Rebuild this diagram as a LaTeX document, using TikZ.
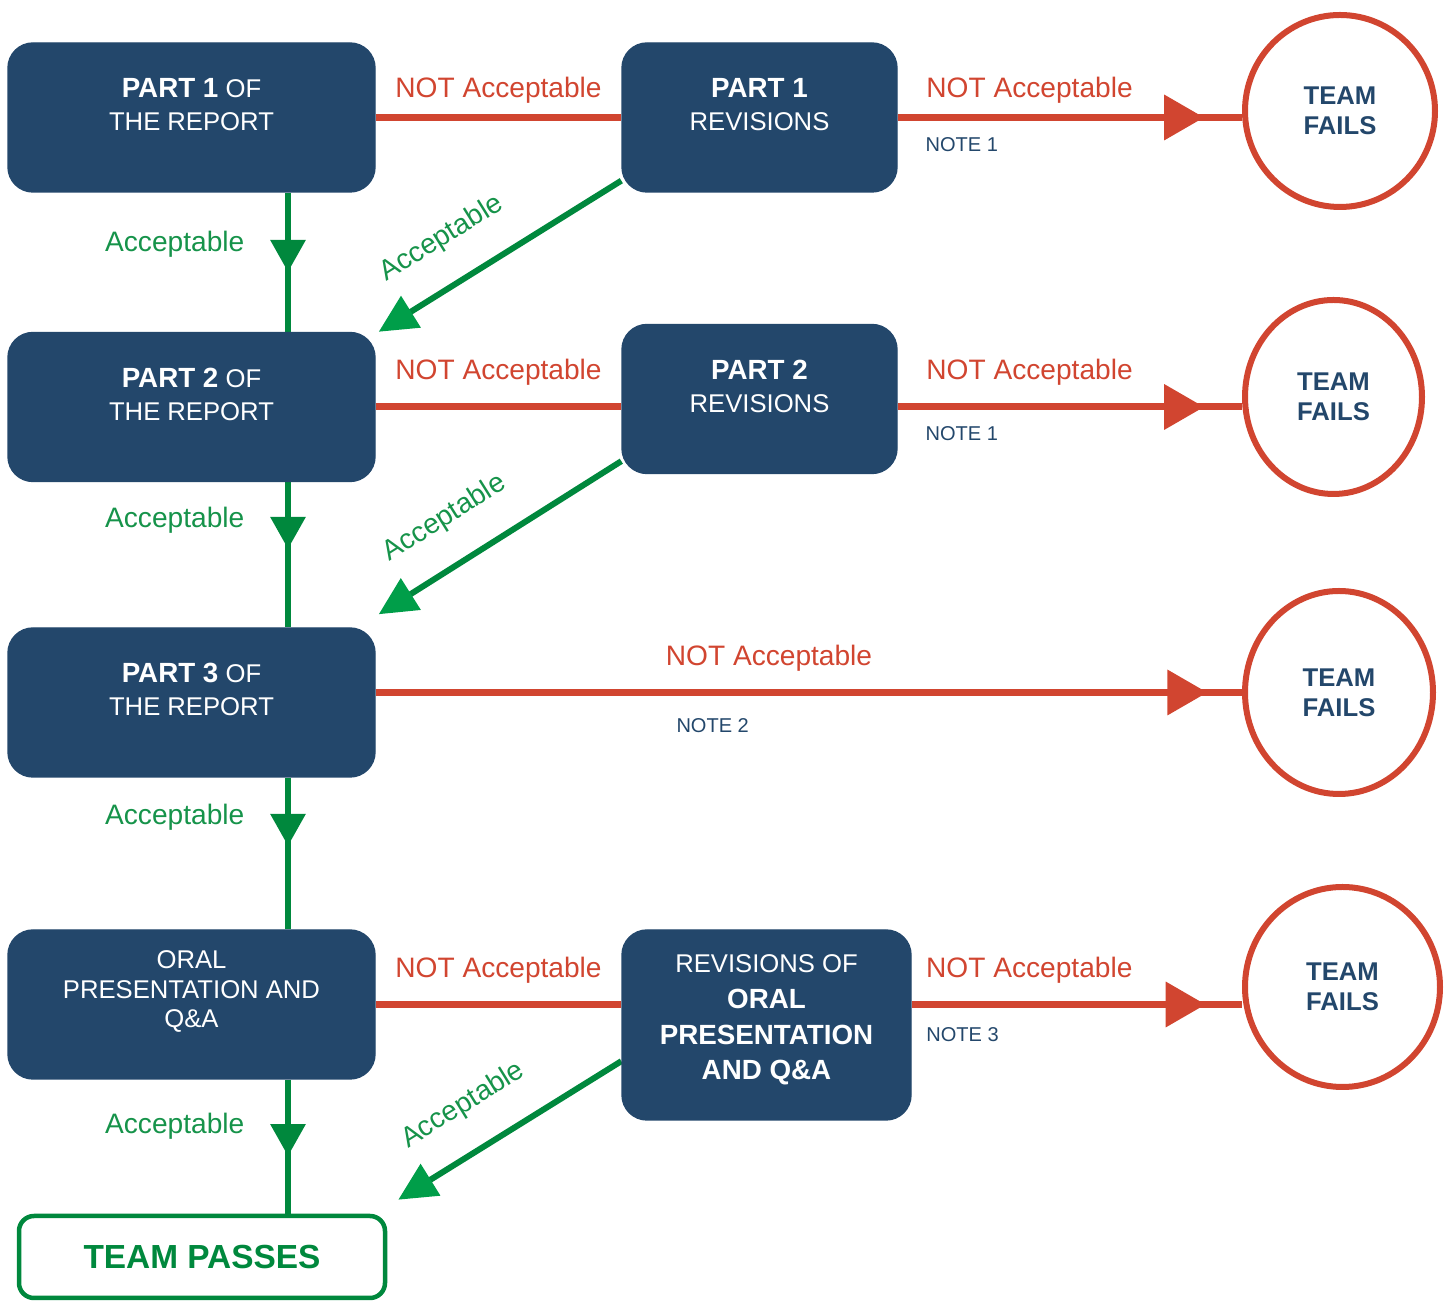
\documentclass[tikz,border=0pt]{standalone}
\usepackage{fontspec}
\setmainfont{Liberation Sans}
\usetikzlibrary{positioning, arrows.meta, shapes.geometric, decorations.markings, backgrounds}
\definecolor{boxblue}{HTML}{23476B}
\definecolor{failred}{HTML}{D14530}
\definecolor{okgreen}{HTML}{00883D}
\definecolor{okgreenlight}{HTML}{009E49}
\definecolor{labelgreen}{HTML}{16934A}
\newcommand{\heavy}[1]{{\fontsize{7.9}{9.4}\selectfont\bfseries #1}}

\begin{document}
\begin{tikzpicture}[
        x=0.1mm, y=-0.1mm,
        stagebox/.style={rectangle, rounded corners=2.5mm, fill=boxblue, draw=boxblue, minimum width=36.7mm, minimum height=14.9mm},
        revbox/.style={stagebox, minimum width=27.5mm},
        boxtext/.style={text=white, align=center, font=\fontsize{7.3}{9.4}\selectfont},
        failcircle/.style={ellipse, draw=failred, line width=0.6mm, fill=white, text=boxblue, align=center, inner sep=0pt, font=\fontsize{7.3}{8.6}\selectfont\bfseries},
        passbox/.style={rectangle, rounded corners=1.5mm, draw=okgreen, line width=0.45mm, fill=white, minimum width=36.6mm, minimum height=8.2mm, text=okgreen, font=\fontsize{9.5}{11}\selectfont\bfseries},
        redline/.style={color=failred, line width=0.7mm},
        greenline/.style={color=okgreen, line width=0.6mm},
        redtip/.style={postaction={decorate}, decoration={markings, mark=at position #1 with {\arrow{Triangle[length=4mm, width=4.4mm]}}}},
        greentip/.style={postaction={decorate}, decoration={markings, mark=at position #1 with {\arrow{Triangle[length=3.2mm, width=3.4mm]}}}},
        backtip/.style={-{Triangle[length=3.8mm, width=3.6mm, color=okgreenlight]}},
        redlabel/.style={text=failred, font=\fontsize{8}{9.6}\selectfont},
        greenlabel/.style={text=labelgreen, font=\fontsize{8}{9.6}\selectfont},
        notelabel/.style={text=boxblue, font=\fontsize{5.7}{7}\selectfont}
    ]
    \useasboundingbox (0,0) rectangle (1450,1302);
    \coordinate (trunk) at (288,0);

    % Report parts, left column
    \node[stagebox] (p1) at (191.5,117.5) {};
    \node[boxtext] (p1txt) at ([yshift=1.3mm]p1.center) {\heavy{PART 1} OF\\THE REPORT};
    \node[stagebox] (p2) at (191.5,407) {};
    \node[boxtext] (p2txt) at ([yshift=1.3mm]p2.center) {\heavy{PART 2} OF\\THE REPORT};
    \node[stagebox] (p3) at (191.5,702.5) {};
    \node[boxtext] (p3txt) at ([yshift=1.3mm]p3.center) {\heavy{PART 3} OF\\THE REPORT};
    \node[stagebox] (p4) at (191.5,1004.5) {};
    \node[boxtext, font=\fontsize{7.3}{8.5}\selectfont] (p4txt) at ([yshift=1.3mm]p4.center) {ORAL\\PRESENTATION AND\\Q\&A};
    \node[passbox] (pass) at (202,1257) {TEAM PASSES};

    % Revisions, middle column
    \node[revbox] (r1) at (759.5,117.5) {};
    \node[boxtext] (r1txt) at ([yshift=1.3mm]r1.center) {\heavy{PART 1}\\REVISIONS};
    \node[revbox] (r2) at (759.5,399) {};
    \node[boxtext] (r2txt) at ([yshift=1.3mm]r2.center) {\heavy{PART 2}\\REVISIONS};
    \node[revbox, minimum width=28.9mm, minimum height=19mm] (r4) at (766.5,1025) {};
    \node[boxtext, font=\fontsize{7.3}{10.2}\selectfont] (r4txt) at ([yshift=0.5mm]r4.center) {REVISIONS OF\\\heavy{ORAL}\\\heavy{PRESENTATION}\\\heavy{AND Q\&A}};

    % Failures, right column
    \node[failcircle, minimum width=19mm, minimum height=19.2mm] (f1) at (1340,111) {TEAM\\FAILS};
    \node[failcircle, minimum width=17.7mm, minimum height=19.4mm] (f2) at (1333.5,397) {TEAM\\FAILS};
    \node[failcircle, minimum width=18.8mm, minimum height=20.3mm] (f3) at (1339,692.5) {TEAM\\FAILS};
    \node[failcircle, minimum width=19.5mm, minimum height=20mm] (f4) at (1342.5,987) {TEAM\\FAILS};

    \begin{scope}[on background layer]
    % NOT Acceptable paths
    \draw[redline] (p1.east) -- node[redlabel, above=-0.1mm] {NOT Acceptable} (r1.west);
    \draw[redline, redtip=0.89] (r1.east) -- node[redlabel, pos=0.383, above=-0.1mm] {NOT Acceptable} node[notelabel, pos=0.186, below=0.5mm] {NOTE 1} (r1.east -| f1.west);
    \draw[redline] (p2.east) -- node[redlabel, above=0.6mm] {NOT Acceptable} (p2.east -| r2.west);
    \draw[redline, redtip=0.89] (p2.east -| r2.east) -- node[redlabel, pos=0.383, above=0.6mm] {NOT Acceptable} node[notelabel, pos=0.186, below=0.4mm] {NOTE 1} (p2.east -| f2.west);
    \draw[redline, redtip=0.96] (p3.east |- f3.west) -- node[redlabel, pos=0.454, above=0.6mm] {NOT Acceptable} node[notelabel, pos=0.389, below=1.1mm] {NOTE 2} (f3.west);
    \draw[redline] (p4.east) -- node[redlabel, above=0.6mm] {NOT Acceptable} (p4.east -| r4.west);
    \draw[redline, redtip=0.89] (p4.east -| r4.east) -- node[redlabel, pos=0.356, above=0.6mm] {NOT Acceptable} node[notelabel, pos=0.154, below=0.8mm] {NOTE 3} (p4.east -| f4.west);

    % Acceptable paths down the trunk
    \draw[greenline, greentip=0.57] (p1.south -| trunk) -- node[greenlabel, pos=0.369, left=2.9mm] {Acceptable} (p2.north -| trunk);
    \draw[greenline, greentip=0.46] (p2.south -| trunk) -- node[greenlabel, pos=0.265, left=2.9mm] {Acceptable} (p3.north -| trunk);
    \draw[greenline, greentip=0.45] (p3.south -| trunk) -- node[greenlabel, pos=0.26, left=2.9mm] {Acceptable} (p4.north -| trunk);
    \draw[greenline, greentip=0.57] (p4.south -| trunk) -- node[greenlabel, pos=0.35, left=2.9mm] {Acceptable} (pass.north -| trunk);

    % Acceptable paths back from revisions
    \draw[greenline, backtip] ([yshift=1.2mm]r1.south west) -- node[greenlabel, pos=0.64, sloped, above=1.8mm] {Acceptable} ([shift={(0.3mm,0mm)}]p2.north east);
    \draw[greenline, backtip] ([yshift=1.3mm]r2.south west) -- node[greenlabel, pos=0.627, sloped, above=1.8mm] {Acceptable} ([shift={(0.3mm,1.3mm)}]p3.north east);
    \draw[greenline, backtip] (r4.194) -- node[greenlabel, pos=0.6, sloped, above=1.8mm] {Acceptable} ([shift={(1.1mm,1.4mm)}]pass.north east);
    \end{scope}
\end{tikzpicture}
\end{document}
